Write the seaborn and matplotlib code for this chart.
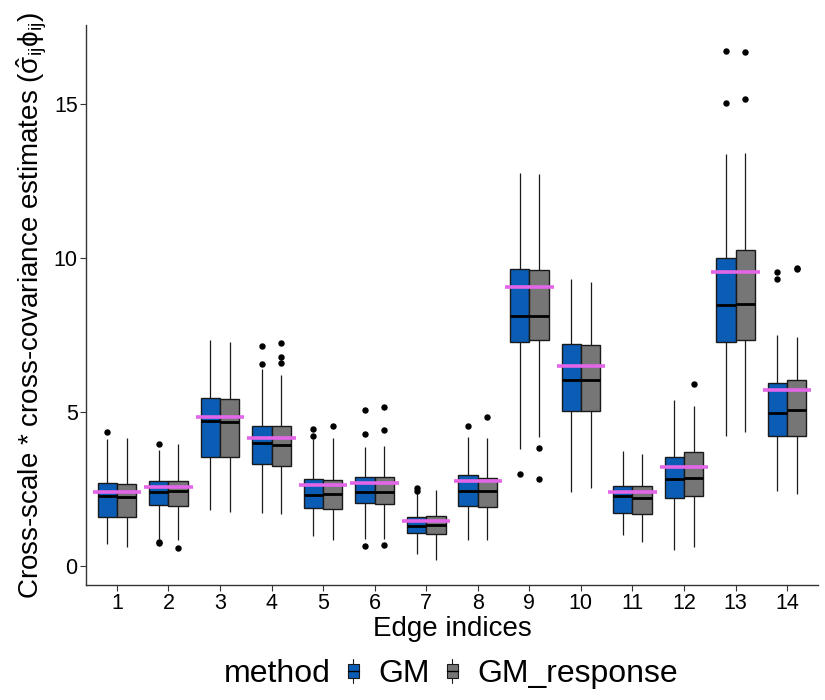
import numpy as np
import pandas as pd
import matplotlib
matplotlib.use("Agg")
import matplotlib.pyplot as plt
import seaborn as sns
from matplotlib.legend_handler import HandlerBase
from matplotlib.patches import Rectangle
from matplotlib.lines import Line2D

# ---------------- data ----------------
edges = [str(i) for i in range(1, 15)]
methods = ["GM", "GM_response"]

# five-number summaries: whisker low, Q1, median, Q3, whisker high
gm_lo  = [0.72, 0.90, 1.82, 1.72, 0.99, 0.90, 0.41, 0.85, 3.81, 2.40, 1.03, 0.53, 4.22, 2.44]
gm_q1  = [1.60, 1.99, 3.55, 3.33, 1.91, 2.06, 1.09, 1.97, 7.29, 5.03, 1.73, 2.23, 7.27, 4.23]
gm_med = [2.27, 2.40, 4.71, 4.01, 2.33, 2.42, 1.31, 2.45, 8.12, 6.06, 2.28, 2.83, 8.46, 4.97]
gm_q3  = [2.69, 2.76, 5.47, 4.56, 2.82, 2.91, 1.62, 2.95, 9.65, 7.22, 2.62, 3.56, 10.01, 5.96]
gm_hi  = [4.13, 3.78, 7.33, 6.40, 4.12, 3.87, 2.40, 4.21, 12.76, 9.32, 3.73, 5.41, 13.36, 7.49]
gm_out = [[4.37], [3.97, 0.80, 0.77], [], [6.56, 7.13], [4.24, 4.47], [4.28, 5.06, 0.65],
          [2.46, 2.56], [4.54], [3.00], [], [], [], [15.01, 16.72], [9.33, 9.54]]

gr_lo  = [0.63, 0.86, 1.78, 1.69, 0.86, 0.90, 0.21, 0.85, 4.21, 2.53, 0.78, 0.64, 4.35, 2.36]
gr_q1  = [1.59, 1.96, 3.56, 3.27, 1.87, 2.04, 1.04, 1.94, 7.33, 5.05, 1.71, 2.28, 7.33, 4.23]
gr_med = [2.24, 2.44, 4.68, 3.95, 2.36, 2.42, 1.33, 2.45, 8.12, 6.03, 2.21, 2.86, 8.50, 5.06]
gr_q3  = [2.68, 2.77, 5.42, 4.56, 2.81, 2.91, 1.64, 2.87, 9.62, 7.19, 2.62, 3.70, 10.27, 6.03]
gr_hi  = [4.17, 3.97, 7.26, 6.21, 4.15, 3.90, 2.49, 4.15, 12.72, 9.23, 3.64, 5.19, 13.40, 7.44]
gr_out = [[], [0.59], [], [6.59, 6.78, 7.24], [4.54], [4.42, 5.17, 0.70],
          [], [4.86], [3.85, 2.85], [], [], [5.90], [15.14, 16.69], [9.64, 9.67]]

# true values (magenta reference segments)
truth = [2.42, 2.59, 4.86, 4.15, 2.63, 2.69, 1.49, 2.78, 9.05, 6.51, 2.42, 3.21, 9.53, 5.73]

# ---------------- build a long table reproducing the summaries ----------------
rows = []
REP = 20
for m, (lo, q1, md, q3, hi, outs) in zip(
        methods,
        [(gm_lo, gm_q1, gm_med, gm_q3, gm_hi, gm_out),
         (gr_lo, gr_q1, gr_med, gr_q3, gr_hi, gr_out)]):
    for i, e in enumerate(edges):
        vals = list(np.repeat([lo[i], q1[i], md[i], q3[i], hi[i]], REP)) + list(outs[i])
        for v in vals:
            rows.append((e, m, v))
df = pd.DataFrame(rows, columns=["edge", "method", "value"])

blue = "#0B5CB5"
grey = "#767676"
violet = "#E466E8"
palette = {"GM": blue, "GM_response": grey}

# ---------------- plot ----------------
sns.set_theme(style="white")
plt.rcParams["font.family"] = ["Liberation Sans", "DejaVu Sans"]
plt.rcParams["mathtext.fontset"] = "custom"
plt.rcParams["mathtext.rm"] = "Liberation Sans"
plt.rcParams["mathtext.it"] = "Liberation Sans"
plt.rcParams["mathtext.default"] = "regular"
plt.rcParams["text.color"] = "black"
plt.rcParams["axes.labelcolor"] = "black"

fig = plt.figure(figsize=(8.25, 7.0), dpi=100)
ax = fig.add_axes([86 / 825, 1 - 585 / 700, (818 - 86) / 825, (585 - 25) / 700])

sns.boxplot(data=df, x="edge", y="value", hue="method", order=edges,
            hue_order=methods, palette=palette, width=0.75, gap=0,
            linewidth=1.0, linecolor="#1a1a1a", whis=1.5, showcaps=False,
            saturation=1, legend=False,
            medianprops=dict(color="black", linewidth=2.0),
            whiskerprops=dict(color="#1a1a1a", linewidth=0.9),
            flierprops=dict(marker="o", markersize=3.6, markerfacecolor="black",
                            markeredgecolor="black"),
            ax=ax)

xpos = np.arange(len(edges))
ax.hlines(truth, xpos - 0.47, xpos + 0.47, color=violet, linewidth=2.6, zorder=6)

ax.set_xlim(-0.6, len(edges) - 0.4)
ax.set_ylim(-0.6, 17.55)
ax.set_yticks([0, 5, 10, 15])
ax.set_xlabel("Edge indices", fontsize=20, color="black", labelpad=1)
ax.set_ylabel(r"Cross-scale * cross-covariance estimates ($\hat{\sigma}_{ij}\phi_{ij}$)",
              fontsize=20, color="black", labelpad=3)
ax.tick_params(axis="both", which="major", labelsize=15.5, length=4, width=0.8,
               color="#333333", labelcolor="black", direction="out", bottom=True, left=True,
               pad=2)
for s in ["top", "right"]:
    ax.spines[s].set_visible(False)
for s in ["left", "bottom"]:
    ax.spines[s].set_color("#333333")
    ax.spines[s].set_linewidth(1.0)
ax.grid(False)


class BoxKeyHandler(HandlerBase):
    def create_artists(self, legend, orig_handle, xdescent, ydescent, width, height,
                       fontsize, trans):
        fc = orig_handle.get_facecolor()
        cx = -xdescent + width / 2
        y0 = -ydescent
        bw = width * 0.85
        r = Rectangle((cx - bw / 2, y0 + height * 0.18), bw, height * 0.64,
                      facecolor=fc, edgecolor="#1a1a1a", linewidth=0.8, transform=trans)
        wl1 = Line2D([cx, cx], [y0 - height * 0.05, y0 + height * 0.18],
                     color="#1a1a1a", linewidth=0.8, transform=trans)
        wl2 = Line2D([cx, cx], [y0 + height * 0.82, y0 + height * 1.05],
                     color="#1a1a1a", linewidth=0.8, transform=trans)
        md = Line2D([cx - bw / 2, cx + bw / 2], [y0 + height * 0.5] * 2,
                    color="black", linewidth=1.0, transform=trans)
        return [r, wl1, wl2, md]


handles = [Rectangle((0, 0), 1, 1, facecolor=palette[m]) for m in methods]
fig.text(224 / 825, 1 - 674 / 700, "method", fontsize=23, va="center", ha="left")
fig.legend(handles, methods, handler_map={Rectangle: BoxKeyHandler()},
           loc="center left", bbox_to_anchor=(347 / 825, 1 - 674 / 700),
           frameon=False, fontsize=23, ncol=2, handlelength=0.4, handleheight=0.7,
           handletextpad=0.58, columnspacing=0.5, borderpad=0, borderaxespad=0)

fig.savefig("out.png", dpi=100)
